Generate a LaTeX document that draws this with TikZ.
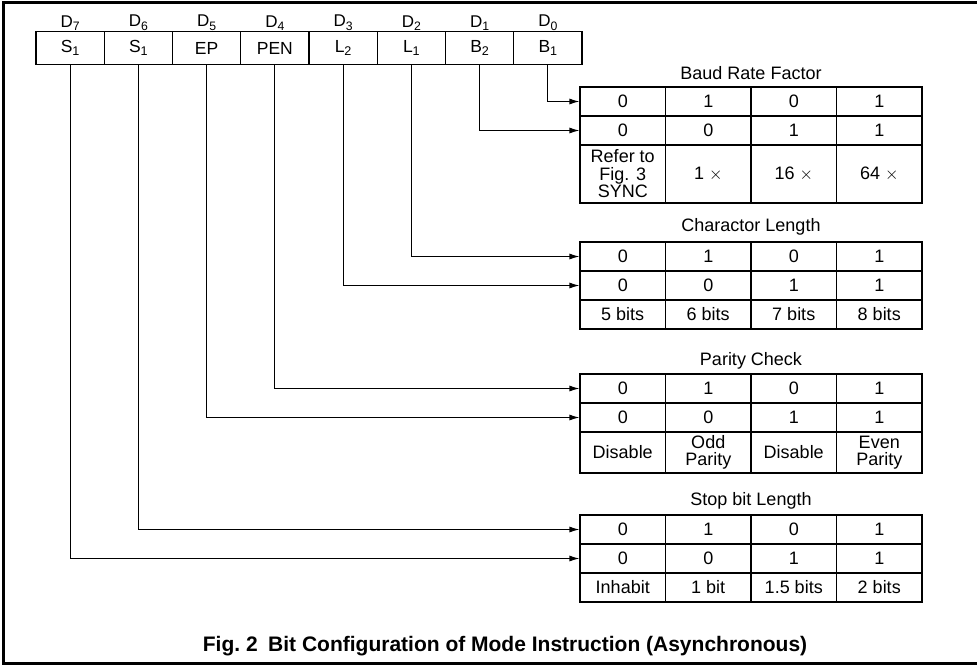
\documentclass[tikz,border=0pt]{standalone}
\usepackage{fontspec}
\setmainfont{Liberation Sans}
\usetikzlibrary{arrows.meta}
\newcommand\sbx[1]{\raisebox{-0.4ex}{\scalebox{0.72}{#1}}}
\begin{document}
\begin{tikzpicture}[x=1pt,y=-1pt,
  reg/.style={draw, line width=1.1pt, minimum width=68.25pt, minimum height=33pt, inner sep=0pt, font=\fontsize{17.5}{17.5}\selectfont},
  dlab/.style={inner sep=0pt, font=\fontsize{17}{17}\selectfont},
  cell/.style={draw, line width=1.1pt, minimum width=85.5pt, minimum height=29pt, inner sep=0pt, align=center, font=\fontsize{18}{17.5}\selectfont},
  ttl/.style={inner sep=0pt, font=\fontsize{18}{18}\selectfont},
  arr/.style={line width=1.1pt, -{Latex[length=10pt,width=6pt]}},
  frameline/.style={line width=2.5pt}]
\useasboundingbox (0,0) rectangle (977,667);
\draw[frameline] (980,2.5) -| (3.5,663.5) -- (980,663.5);
% register
\node[reg] (r7) at (70.125,48) {S\sbx{1}};
\node[reg] (r6) at (138.375,48) {S\sbx{1}};
\node[reg] (r5) at (206.625,48) {EP};
\node[reg] (r4) at (274.875,48) {PEN};
\node[reg] (r3) at (343.125,48) {L\sbx{2}};
\node[reg] (r2) at (411.375,48) {L\sbx{1}};
\node[reg] (r1) at (479.625,48) {B\sbx{2}};
\node[reg] (r0) at (547.875,48) {B\sbx{1}};
\node[dlab] (d7) at (70.125,23) {D\sbx{7}};
\node[dlab] (d6) at (138.375,23) {D\sbx{6}};
\node[dlab] (d5) at (206.625,23) {D\sbx{5}};
\node[dlab] (d4) at (274.875,23) {D\sbx{4}};
\node[dlab] (d3) at (343.125,23) {D\sbx{3}};
\node[dlab] (d2) at (411.375,23) {D\sbx{2}};
\node[dlab] (d1) at (479.625,23) {D\sbx{1}};
\node[dlab] (d0) at (547.875,23) {D\sbx{0}};
% Baud rate
\node[ttl] (tb) at (751,73) {Baud Rate Factor};
\node[cell] (b11) at (622.75,101.5) {0};
\node[cell] (b12) at (708.25,101.5) {1};
\node[cell] (b13) at (793.75,101.5) {0};
\node[cell] (b14) at (879.25,101.5) {1};
\node[cell] (b21) at (622.75,130.5) {0};
\node[cell] (b22) at (708.25,130.5) {0};
\node[cell] (b23) at (793.75,130.5) {1};
\node[cell] (b24) at (879.25,130.5) {1};
\node[cell, minimum height=58pt] (b31) at (622.75,174) {Refer to\\Fig. 3\\SYNC};
\node[cell, minimum height=58pt] (b32) at (708.25,174) {1 $\times$};
\node[cell, minimum height=58pt] (b33) at (793.75,174) {16 $\times$};
\node[cell, minimum height=58pt] (b34) at (879.25,174) {64 $\times$};
% Character length
\node[ttl] (tc) at (751,227) {Charactor Length};
\node[cell] (c11) at (622.75,256.5) {0};
\node[cell] (c12) at (708.25,256.5) {1};
\node[cell] (c13) at (793.75,256.5) {0};
\node[cell] (c14) at (879.25,256.5) {1};
\node[cell] (c21) at (622.75,285.5) {0};
\node[cell] (c22) at (708.25,285.5) {0};
\node[cell] (c23) at (793.75,285.5) {1};
\node[cell] (c24) at (879.25,285.5) {1};
\node[cell] (c31) at (622.75,314.5) {5 bits};
\node[cell] (c32) at (708.25,314.5) {6 bits};
\node[cell] (c33) at (793.75,314.5) {7 bits};
\node[cell] (c34) at (879.25,314.5) {8 bits};
% Parity
\node[ttl] (tp) at (751,361) {Parity Check};
\node[cell] (p11) at (622.75,388.5) {0};
\node[cell] (p12) at (708.25,388.5) {1};
\node[cell] (p13) at (793.75,388.5) {0};
\node[cell] (p14) at (879.25,388.5) {1};
\node[cell] (p21) at (622.75,417.5) {0};
\node[cell] (p22) at (708.25,417.5) {0};
\node[cell] (p23) at (793.75,417.5) {1};
\node[cell] (p24) at (879.25,417.5) {1};
\node[cell, minimum height=41pt] (p31) at (622.75,452.5) {Disable};
\node[cell, minimum height=41pt] (p32) at (708.25,452.5) {Odd\\Parity};
\node[cell, minimum height=41pt] (p33) at (793.75,452.5) {Disable};
\node[cell, minimum height=41pt] (p34) at (879.25,452.5) {Even\\Parity};
% Stop bits
\node[ttl] (ts) at (751,501) {Stop bit Length};
\node[cell] (s11) at (622.75,529.5) {0};
\node[cell] (s12) at (708.25,529.5) {1};
\node[cell] (s13) at (793.75,529.5) {0};
\node[cell] (s14) at (879.25,529.5) {1};
\node[cell] (s21) at (622.75,558.5) {0};
\node[cell] (s22) at (708.25,558.5) {0};
\node[cell] (s23) at (793.75,558.5) {1};
\node[cell] (s24) at (879.25,558.5) {1};
\node[cell] (s31) at (622.75,587.5) {Inhabit};
\node[cell] (s32) at (708.25,587.5) {1 bit};
\node[cell] (s33) at (793.75,587.5) {1.5 bits};
\node[cell] (s34) at (879.25,587.5) {2 bits};
% connectors
\draw[arr] (r0.south) |- (b11.west);
\draw[arr] (r1.south) |- (b21.west);
\draw[arr] (r2.south) |- (c11.west);
\draw[arr] (r3.south) |- (c21.west);
\draw[arr] (r4.south) |- (p11.west);
\draw[arr] (r5.south) |- (p21.west);
\draw[arr] (r6.south) |- (s11.west);
\draw[arr] (r7.south) |- (s21.west);
% caption
\node[inner sep=0pt, font=\bfseries\fontsize{21}{21}\selectfont] (cap) at (505,646) {Fig.~2\hspace{0.5em}Bit Configuration of Mode Instruction (Asynchronous)};
\end{tikzpicture}
\end{document}
